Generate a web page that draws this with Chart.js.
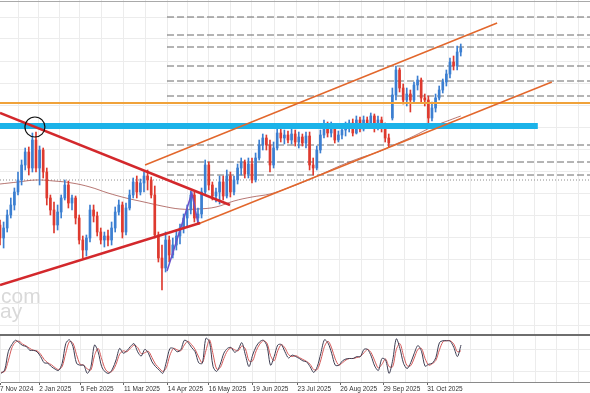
<!DOCTYPE html>
<html>
<head>
<meta charset="utf-8">
<title>Daily chart – channel breakout</title>
<script src="https://cdn.jsdelivr.net/npm/chart.js@4.4.1/dist/chart.umd.min.js"></script>
<style>
  html, body { margin:0; padding:0; background:#fff; }
  #wrap { position:relative; width:590px; height:393px; background:#fff; overflow:hidden; }
  .pane { position:absolute; left:0; width:590px; }
</style>
</head>
<body>
<div id="wrap">
  <div class="pane" style="top:0;height:334px"><canvas id="main"></canvas></div>
  <div class="pane" style="top:334px;height:59px"><canvas id="osc"></canvas></div>
</div>
<script>
'use strict';

// ── Data (x = bar index, price in chart points) ──────────────────────────────
var opens = [109,96,106,119,129,142,154,169,182,166, 194,166,184,162,136,124,109,122,136,149,
             131,136,116,94,84,96,124,118,102,94, 98,94,106,122,129,102,126,139,152,142,
             151,158,154,139,99,76,66,94,79,89, 98,106,116,124,139,116,120,142,169,149,
             138,142,152,138,158,142,154,166,172,160, 170,154,176,189,196,189,169,186,201,196,
             199,194,200,192,197,191,198,169,166,184, 199,208,201,206,194,199,204,208,211,201,
             214,205,214,211,218,206,214,208,196,216, 239,264,246,234,240,234,249,254,236,234,
             216,226,236,244,252,260,272,268,282];
var highs = [114,112,124,136,146,162,174,186,187,201, 202,188,186,166,139,132,129,139,154,153,
             139,138,119,98,99,129,129,122,106,102, 104,112,127,134,132,131,144,156,158,155,
             162,164,157,148,102,89,102,98,96,104, 110,120,129,143,142,126,146,174,172,152,
             146,158,158,164,162,158,170,176,174,176, 176,181,194,200,199,194,192,206,206,204,
             203,206,204,202,200,202,202,176,188,204, 214,212,212,209,203,207,212,214,215,218,
             217,218,217,221,220,218,217,211,200,246, 268,266,250,246,244,252,258,256,240,238,
             232,240,248,255,264,276,278,288,290];
var lows  = [89,86,102,116,124,139,149,164,159,162, 162,149,156,129,119,101,104,116,134,126,
             124,110,90,76,78,92,112,98,90,87, 88,89,102,119,96,99,124,136,136,139,
             142,144,136,96,72,44,62,72,76,84, 90,101,108,120,112,110,116,139,144,134,
             132,130,134,136,137,139,150,159,156,156, 151,152,174,184,184,162,166,184,192,190,
             191,190,188,186,188,186,164,159,164,181, 196,197,197,191,192,195,198,202,198,200,
             202,203,206,207,202,204,202,192,187,214, 234,242,230,228,222,232,244,232,228,211,
             213,222,234,241,248,256,264,264,278];
var closes = [96,106,119,129,142,154,169,182,166,194, 166,184,162,136,124,109,122,136,149,131,
              136,116,94,84,96,124,118,102,94,98, 94,106,122,129,102,126,139,152,142,151,
              158,154,139,99,76,66,94,79,89,98, 106,116,124,139,116,120,142,169,149,138,
              142,152,138,158,142,154,166,172,160,170, 154,176,189,196,189,169,186,201,196,199,
              194,200,192,197,191,198,169,166,184,199, 208,201,206,194,199,204,208,211,201,214,
              205,214,211,218,206,214,208,196,191,239, 264,246,234,240,234,249,254,236,234,216,
              226,236,244,252,260,272,268,282,286];

// moving average, read every 5 bars
var maBars = [0,5,10,15,20,25,30,35,40,45,50,55,60,65,70,75,80,85,90,95,100,105,110,115,120,125,128];
var maLine = [150,152,154,153,151,147,141,136,132,128,125,125,127,133,137,140,146,153,161,169,176,182,190,198,207,214,218];

// stochastic oscillator (%K, %D)
var stochK = [18,25,63,78,87,82,76,74,66,66, 63,53,40,39,32,27,24,39,80,88,
              74,39,35,35,18,32,77,63,32,21, 18,27,46,70,60,65,74,80,63,54,
              68,60,42,32,25,18,42,70,70,63, 67,87,83,72,63,40,39,91,84,32,
              22,37,60,70,72,62,68,82,56,32, 56,74,84,87,75,35,53,77,78,63,
              50,56,53,49,44,42,32,20,32,60, 88,81,60,35,35,44,48,49,49,53,
              53,68,68,54,33,24,49,46,18,46, 90,70,39,28,40,60,76,64,33,37,
              39,51,82,86,86,85,72,53,77];
var stochD = [20,22,44,71,83,85,79,75,70,66, 65,58,47,40,36,30,26,32,60,84,
              81,57,37,35,27,25,55,70,48,27, 20,23,37,58,65,63,70,77,72,59,
              61,64,51,37,29,22,30,56,70,67, 65,77,85,78,68,52,40,65,88,58,
              27,30,49,65,71,67,65,75,69,44, 44,65,79,86,81,55,44,65,78,71,
              57,53,55,51,47,43,37,26,26,46, 74,85,71,48,35,40,46,49,49,51,
              53,61,68,61,44,29,37,48,32,32, 68,80,55,34,34,50,68,70,49,35,
              38,45,67,84,86,86,79,63,65];

// drawn levels and trendlines [bar, price]
var dashLevels  = [317, 299, 287, 268, 253, 238, 189, 172, 159];
var dashFrom    = 46.4;
var dottedLevel = 154;
var orangeLevel = 231;
var zoneLevel   = 208;
var zoneEnd     = 149.4;
var triUpper  = [[0, 221], [63.9, 129]];
var triLower  = [[0, 49], [55.6, 111]];
var chanUpper = [[40.3, 169], [138.1, 311]];
var chanLower = [[55, 110], [153.3, 252]];
var zigzag    = [[46.4, 63], [53.3, 141], [55, 111]];
var circleAt  = [9.7, 207];

// x axis dates
var dateLabels = ['7 Nov 2024','2 Jan 2025','5 Feb 2025','11 Mar 2025','14 Apr 2025','16 May 2025',
                  '19 Jun 2025','23 Jul 2025','26 Aug 2025','29 Sep 2025','31 Oct 2025'];
var datePos    = [-0.3, 10.6, 22.2, 34.2, 46.4, 57.8, 70.0, 82.5, 94.4, 106.4, 118.6];

// ── Helpers ──────────────────────────────────────────────────────────────────
var X_MAX = 163.9;
var BLUE = '#3c7fd1', RED = '#de3a2f', GRID = '#ececec';
var FONT = '"Liberation Sans", Arial, sans-serif';

function pts(arr) { return arr.map(function(p) { return { x:p[0], y:p[1] }; }); }
function hline(y, x0, x1) { return [{ x:x0, y:y }, { x:x1, y:y }]; }
function candleColor(ctx) { var i = ctx.dataIndex; return closes[i] >= opens[i] ? BLUE : RED; }

function xGridTicks() {
  var t = [];
  datePos.forEach(function(p, k) {
    t.push({ value:p, dl:dateLabels[k] });
    var next = k < datePos.length - 1 ? datePos[k + 1] : p + 12;
    t.push({ value:(p + next) / 2 });
  });
  for (var v = datePos[datePos.length - 1] + 12; v < X_MAX; v += 6) t.push({ value:v });
  return t;
}
function priceGridTicks() {
  var t = [];
  for (var p = 9; p <= 334; p += 22) t.push({ value:p });
  return t;
}

function lineDs(data, color, width, order, extra) {
  return Object.assign({ type:'line', data:data, borderColor:color, borderWidth:width,
    pointRadius:0, fill:false, tension:0, order:order }, extra || {});
}

// ── Main price pane ──────────────────────────────────────────────────────────
var mainFrame = {
  id: 'mainFrame',
  beforeDatasetsDraw: function(chart) {
    var c = chart.ctx;
    c.save();
    c.fillStyle = '#d9d9d9';
    c.font = '21px ' + FONT;
    c.fillText('com', 1, 303);
    c.fillText('ay', 0, 318);
    c.restore();
  },
  afterDraw: function(chart) {
    var c = chart.ctx;
    c.save();
    c.fillStyle = '#a9a9a9';
    c.fillRect(0, 1, chart.width, 1);
    c.restore();
  }
};

var datasets = [
  { type:'bar', data:lows.map(function(l, i) { return { x:i, y:[l, highs[i]] }; }),
    backgroundColor:candleColor, barThickness:1, grouped:false, order:6 },
  { type:'bar', data:opens.map(function(o, i) { return { x:i, y:[o, closes[i]] }; }),
    backgroundColor:candleColor, barThickness:2, minBarLength:1, grouped:false, order:5 },
  lineDs(maBars.map(function(b, i) { return { x:b, y:maLine[i] }; }), 'rgba(165,85,80,0.8)', 1, 7, { tension:0.4 }),
  lineDs(hline(dottedLevel, 0, X_MAX), '#8c8c8c', 1, 8, { borderDash:[1, 2] })
];
dashLevels.forEach(function(lv) {
  datasets.push(lineDs(hline(lv, dashFrom, X_MAX), '#6a6a6a', 1, 8, { borderDash:[7, 3] }));
});
datasets.push(
  lineDs(hline(orangeLevel, 0, X_MAX), '#f0a23a', 2, 3),
  lineDs(hline(zoneLevel, 0, zoneEnd), '#1bb3e9', 6, 2),
  lineDs(pts(triUpper), '#d3282c', 2.5, 1),
  lineDs(pts(triLower), '#d3282c', 2.5, 1),
  lineDs(pts(chanUpper), '#e2672c', 1.5, 1),
  lineDs(pts(chanLower), '#e2672c', 1.5, 1),
  lineDs(pts(zigzag), '#6a52c9', 1.5, 1),
  lineDs([{ x:circleAt[0], y:circleAt[1] }], '#111', 0, 0, {
    showLine:false, pointRadius:10, pointBorderColor:'#111', pointBorderWidth:1.2,
    pointBackgroundColor:'rgba(0,0,0,0)' })
);

new Chart(document.getElementById('main'), {
  type: 'bar',
  data: { datasets: datasets },
  options: {
    animation:false, responsive:true, maintainAspectRatio:false, devicePixelRatio:1,
    layout:{ padding:0, autoPadding:false },
    plugins:{ legend:{ display:false }, tooltip:{ enabled:false } },
    scales: {
      x: { type:'linear', min:0, max:X_MAX, offset:false,
           afterBuildTicks:function(s) { s.ticks = xGridTicks(); },
           afterFit:function(s) { s.height = 0; },
           ticks:{ display:false }, border:{ display:false },
           grid:{ color:GRID, offset:false, drawTicks:false } },
      y: { min:0, max:334,
           afterBuildTicks:function(s) { s.ticks = priceGridTicks(); },
           afterFit:function(s) { s.width = 0; },
           ticks:{ display:false }, border:{ display:false },
           grid:{ color:GRID, drawTicks:false } }
    }
  },
  plugins: [mainFrame]
});

// ── Stochastic pane ──────────────────────────────────────────────────────────
var oscFrame = {
  id: 'oscFrame',
  afterDraw: function(chart) {
    var c = chart.ctx;
    c.save();
    c.fillStyle = '#6e6e6e';
    c.fillRect(0, 0, chart.width, 2);
    c.restore();
  }
};

new Chart(document.getElementById('osc'), {
  type: 'line',
  data: {
    datasets: [
      lineDs(stochK.map(function(v, i) { return { x:i, y:v }; }), '#3d3d52', 1, 1, { tension:0.3 }),
      lineDs(stochD.map(function(v, i) { return { x:i, y:v }; }), '#d45a5a', 1, 2, { tension:0.3 })
    ]
  },
  options: {
    animation:false, responsive:true, maintainAspectRatio:false, devicePixelRatio:1,
    layout:{ padding:0, autoPadding:false },
    plugins:{ legend:{ display:false }, tooltip:{ enabled:false } },
    scales: {
      x: { type:'linear', min:0, max:X_MAX,
           afterBuildTicks:function(s) { s.ticks = xGridTicks(); },
           afterFit:function(s) { s.height = 11; },
           ticks:{ autoSkip:false, maxRotation:0, minRotation:0, align:'start', padding:0,
                   color:'#333', font:{ family:FONT, size:6.5 },
                   callback:function(v, i, t) { return t[i].dl || ''; } },
           grid:{ color:GRID, tickLength:3,
                  tickColor:function(ctx) { return ctx.tick && ctx.tick.dl ? '#666' : 'rgba(0,0,0,0)'; } },
           border:{ display:true, color:'#8a8a8a', width:1 } },
      y: { min:0, max:100,
           afterBuildTicks:function(s) { s.ticks = [{ value:21 }, { value:67 }]; },
           afterFit:function(s) { s.width = 0; },
           ticks:{ display:false }, border:{ display:false },
           grid:{ color:GRID, drawTicks:false } }
    }
  },
  plugins: [oscFrame]
});
</script>
</body>
</html>
